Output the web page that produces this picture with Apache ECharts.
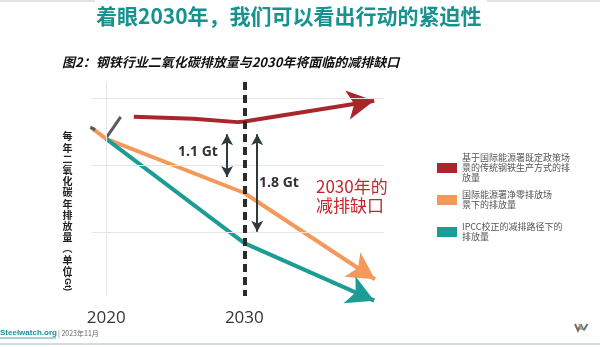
<!DOCTYPE html>
<html><head><meta charset="utf-8">
<script src="https://cdn.jsdelivr.net/npm/echarts@6/dist/echarts.min.js"></script>
<style>html,body{margin:0;padding:0;background:#fff}#c{width:600px;height:347px}</style>
</head><body><div id="c"></div>
<script>
// ---- data ----
const xTickLabels = [2020, 2030];
const gridValues = [2, 3, 4];
const seriesNames = ['基于国际能源署既定政策场景的传统钢铁生产方式的排放量', '国际能源署净零排放场景下的排放量', 'IPCC校正的减排路径下的排放量'];
const legendLines = [['基于国际能源署既定政策场', '景的传统钢铁生产方式的排', '放量'], ['国际能源署净零排放场', '景下的排放量'], ['IPCC校正的减排路径下的', '排放量']];
const redYears = [2022, 2026.3, 2029.5, 2030, 2039.4];
const redValues = [3.73, 3.70, 3.65, 3.66, 3.97];
const orangeYears = [2018.97, 2020, 2030, 2039.45];
const orangeValues = [3.56, 3.40, 2.59, 1.30];
const tealYears = [2020, 2030, 2039.4];
const tealValues = [3.40, 1.84, 0.98];
const grayYears = [2020.05, 2021.05];
const grayValues = [3.43, 3.73];
const grayCapYears = [2018.85, 2019.2];
const grayCapValues = [3.575, 3.535];
const gapLabels = ['1.1 Gt', '1.8 Gt'];
const gapArrowYears = [2028.75, 2030.93];
const gapArrowTop = [3.47, 3.47];
const gapArrowBottom = [2.83, 2.01];
const dashedYear = 2030;
const gapText = ['2030年的', '减排缺口'];

// ---- chart ----
const colors = { red: '#a9262d', orange: '#f4995a', teal: '#1b9c95', gray: '#5b5b5b' };
const X_MIN = 2018.9, X_MAX = 2040.5, Y_MIN = 1.05, Y_MAX = 4.25;
function pairs(xs, ys) { return xs.map((x, i) => [x, ys[i]]); }
function arrowData(xs, ys, rot) {
  const d = pairs(xs, ys).map(p => ({ value: p }));
  const last = d[d.length - 1];
  last.symbol = 'arrow'; last.symbolSize = [22, 27]; last.symbolRotate = rot || 0;
  return d;
}
function lineSeries(name, xs, ys, color, rot) {
  return {
    name: name, type: 'line', data: arrowData(xs, ys, rot), symbol: 'none', showSymbol: true,
    clip: false, z: 3, silent: true, emphasis: { disabled: true },
    lineStyle: { color: color, width: 4, cap: 'butt', join: 'round' },
    itemStyle: { color: color, borderWidth: 0 }
  };
}
const chart = echarts.init(document.getElementById('c'), null, { renderer: 'canvas' });
const ff = 'Noto Sans CJK SC';
function legendFor(i, top) {
  return {
    left: 432, top: top, orient: 'vertical', icon: 'rect', itemWidth: 20, itemHeight: 10,
    selectedMode: false, data: [seriesNames[i]],
    formatter: () => legendLines[i].join('\n'),
    textStyle: { fontSize: 9, lineHeight: 10, color: '#555', fontFamily: ff }
  };
}
function buildOption(rots) {
  return {
    animation: false,
    title: { text: '着眼2030年，我们可以看出行动的紧迫性', left: 96, top: 6, padding: 0,
      textStyle: { color: '#17938f', fontSize: 21, fontWeight: 'bold', fontFamily: ff } },
    legend: [legendFor(0, 148), legendFor(1, 185), legendFor(2, 217)],
    grid: { left: 91, right: 600 - 389.4, top: 82, bottom: 51, containLabel: false },
    xAxis: { type: 'value', min: X_MIN, max: X_MAX,
      axisLine: { show: false }, axisTick: { show: false }, splitLine: { show: false },
      axisLabel: { customValues: xTickLabels, formatter: v => String(v), color: '#333', fontSize: 17, fontFamily: 'Open Sans', margin: 14 } },
    yAxis: { type: 'value', min: Y_MIN, max: Y_MAX,
      axisLine: { show: false }, axisTick: { show: false }, splitLine: { show: false }, axisLabel: { show: false } },
    series: [
      { type: 'line', data: [], z: 1, silent: true,
        markLine: { silent: true, symbol: 'none', label: { show: false }, animation: false,
          lineStyle: { color: '#e6e6e6', width: 1, type: 'solid' },
          data: gridValues.map(v => [{ coord: [2018.95, v] }, { coord: [2040.1, v] }])
            .concat([[{ coord: [xTickLabels[0], Y_MAX] }, { coord: [xTickLabels[0], Y_MIN] }]]) } },
      lineSeries(seriesNames[0], redYears, redValues, colors.red, rots[0]),
      lineSeries(seriesNames[1], orangeYears, orangeValues, colors.orange, rots[1]),
      lineSeries(seriesNames[2], tealYears, tealValues, colors.teal, rots[2]),
      { type: 'line', data: pairs(grayYears, grayValues), symbol: 'none', z: 4, silent: true,
        lineStyle: { color: colors.gray, width: 3 } },
      { type: 'line', data: pairs(grayCapYears, grayCapValues), symbol: 'none', z: 4, silent: true,
        lineStyle: { color: colors.gray, width: 3 } },
      { type: 'line', data: [], z: 6, silent: true,
        markLine: { silent: true, symbol: 'none', label: { show: false }, animation: false,
          lineStyle: { color: '#2b2b2b', width: 4, type: [8, 5] },
          data: [[{ coord: [dashedYear, Y_MAX] }, { coord: [dashedYear, Y_MIN] }]] } },
      { type: 'line', data: [], z: 6, silent: true,
        markLine: { silent: true, symbol: ['arrow', 'arrow'], symbolSize: [9, 11], label: { show: false }, animation: false,
          lineStyle: { color: '#2f3a3e', width: 2, type: 'solid' },
          data: gapArrowYears.map((x, i) => [{ coord: [x, gapArrowTop[i]] }, { coord: [x, gapArrowBottom[i]] }]) } }
    ],
    graphic: [
      { type: 'rect', shape: { x: 0, y: 0, width: 95, height: 2 }, style: { fill: '#dde3e6' } },
      { type: 'rect', shape: { x: 487, y: 0, width: 113, height: 2 }, style: { fill: '#dde3e6' } },
      { type: 'rect', shape: { x: 0, y: 343, width: 600, height: 2 }, style: { fill: '#d3dde0' } },
      { type: 'text', x: 62, y: 62, style: { text: '图2：钢铁行业二氧化碳排放量与2030年将面临的减排缺口', fill: '#111',
          font: 'italic bold 13px "Noto Sans CJK SC"', textVerticalAlign: 'middle' } },
      { type: 'text', x: 67.5, y: 131, style: { text: '每\n年\n二\n氧\n化\n碳\n年\n排\n放\n量\n︵\n单\n位', fill: '#222',
          font: 'bold 10px "Noto Sans CJK SC"', lineHeight: 11.2, textAlign: 'center' } },
      { type: 'text', x: 67.5, y: 283, rotation: -Math.PI / 2, style: { text: ':Gt)', fill: '#222',
          font: 'bold 9px "Liberation Sans"', textAlign: 'center', textVerticalAlign: 'middle' } },
      { type: 'text', x: 198, y: 152, style: { text: gapLabels[0], fill: '#333', font: 'bold 14px "Open Sans"',
          textAlign: 'center', textVerticalAlign: 'middle' } },
      { type: 'text', x: 279, y: 183, style: { text: gapLabels[1], fill: '#333', font: 'bold 14px "Open Sans"',
          textAlign: 'center', textVerticalAlign: 'middle' } },
      { type: 'text', x: 316, y: 177, style: { text: gapText.join('\n'), fill: '#c4262e', font: '17px "Noto Sans CJK SC"',
          lineHeight: 19 } },
      { type: 'text', x: 0, y: 333, style: { text: 'Steelwatch.org', fill: '#1a8fa0', font: 'bold 8px "Liberation Sans"',
          textVerticalAlign: 'middle' } },
      { type: 'line', shape: { x1: 0, y1: 338, x2: 56, y2: 338 }, style: { stroke: '#1a8fa0', lineWidth: 0.8 } },
      { type: 'text', x: 58, y: 333, style: { text: '| 2023年11月', fill: '#666', font: '7px "Noto Sans CJK SC"',
          textVerticalAlign: 'middle' } },
      { type: 'polyline', shape: { points: [[575, 324], [578, 330.5], [580.5, 325]] }, style: { stroke: '#6d6d6d', lineWidth: 2, fill: null } },
      { type: 'line', shape: { x1: 579, y1: 324, x2: 581.5, y2: 330 }, style: { stroke: '#e8894a', lineWidth: 1.6 } },
      { type: 'line', shape: { x1: 581, y1: 324, x2: 583.5, y2: 330 }, style: { stroke: '#1b9c95', lineWidth: 1.6 } },
      { type: 'line', shape: { x1: 583.5, y1: 330.5, x2: 587.5, y2: 324 }, style: { stroke: '#6d6d6d', lineWidth: 2 } }
    ]
  };
}
chart.setOption(buildOption([0, 0, 0]));
function rotFor(xs, ys) {
  const n = xs.length;
  const a = chart.convertToPixel({ gridIndex: 0 }, [xs[n - 2], ys[n - 2]]);
  const b = chart.convertToPixel({ gridIndex: 0 }, [xs[n - 1], ys[n - 1]]);
  const theta = Math.atan2(-(b[1] - a[1]), b[0] - a[0]) * 180 / Math.PI;
  return theta - 90;
}
chart.setOption(buildOption([rotFor(redYears, redValues), rotFor(orangeYears, orangeValues), rotFor(tealYears, tealValues)]));
</script></body></html>
